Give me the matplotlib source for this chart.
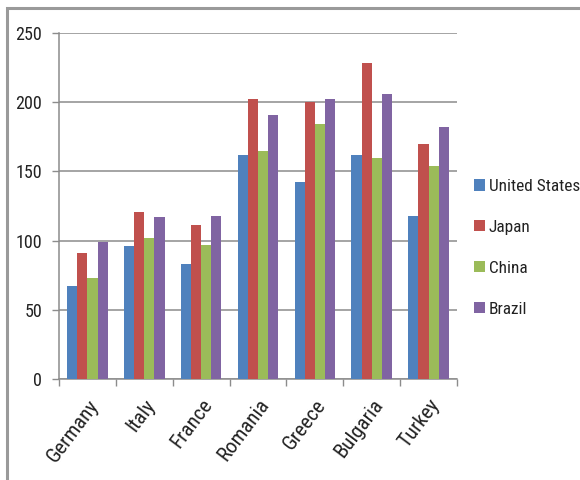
import matplotlib
matplotlib.use("Agg")
import matplotlib.pyplot as plt
import numpy as np
from matplotlib.patches import Rectangle
from matplotlib import font_manager

countries = ["Germany", "Italy", "France", "Romania", "Greece", "Bulgaria", "Turkey"]
series_names = ["United States", "Japan", "China", "Brazil"]
united_states = [67, 96, 83, 162, 142, 162, 118]
japan = [91, 121, 111, 202, 200, 228, 170]
china = [73, 102, 97, 165, 184, 160, 154]
brazil = [99, 117, 118, 191, 202, 206, 182]
y_ticks = [0, 50, 100, 150, 200, 250]

colors = ["#4F81BD", "#C0504D", "#9BBB59", "#8064A2"]
grid_color = "#8C8C8C"

available = {f.name for f in font_manager.fontManager.ttflist}
condensed = [n for n in ["Roboto Condensed", "Liberation Sans Narrow",
                         "Open Sans Condensed", "Noto Sans Condensed",
                         "DejaVu Sans Condensed"] if n in available]
family = condensed[0] if condensed else "Roboto"
plt.rcParams["font.family"] = [family, "DejaVu Sans"]
fs = 13 if condensed else 11.5

W, H = 580, 480
fig = plt.figure(figsize=(W / 100, H / 100), dpi=100)
fig.patch.set_facecolor("white")

# chart frame
fig.add_artist(Rectangle((7 / W, -0.05), 1.2, 1 - 8 / H + 0.05,
                         transform=fig.transFigure, fill=False,
                         edgecolor="#9A9A9A", linewidth=2.2))

ax = fig.add_axes([59 / W, 1 - 379 / H, (457 - 59) / W, (379 - 33) / H])

x = np.arange(len(countries))
bw = 0.178
all_series = [united_states, japan, china, brazil]
for i, (vals, name, c) in enumerate(zip(all_series, series_names, colors)):
    ax.bar(x + (i - 1.5) * bw, vals, width=bw, color=c, label=name,
           edgecolor="none", zorder=3)

ax.set_xlim(-0.5, len(countries) - 0.5)
ax.set_ylim(0, 250)
ax.set_yticks(y_ticks)
ax.set_yticklabels([str(v) for v in y_ticks], fontsize=fs, color="#222222")
ax.yaxis.grid(True, color=grid_color, linewidth=1.1, zorder=0)

ax.set_xticks(x)
ax.set_xticklabels(countries, rotation=53, ha="right", rotation_mode="anchor",
                   fontsize=fs + 2, color="#222222")
ax.tick_params(axis="x", length=0, pad=12)
ax.set_xticks(np.arange(-0.5, len(countries)), minor=True)
ax.tick_params(axis="x", which="minor", length=5, color=grid_color, width=1)
ax.tick_params(axis="y", length=5, color=grid_color, width=1, pad=7)

for side in ["top", "right"]:
    ax.spines[side].set_visible(False)
for side in ["left", "bottom"]:
    ax.spines[side].set_color(grid_color)
    ax.spines[side].set_linewidth(1.1)

leg = fig.legend(loc="upper left", bbox_to_anchor=(474 / W, 1 - 179 / H),
                 frameon=False, fontsize=fs - 0.6, handlelength=0.62,
                 handleheight=0.62, handletextpad=0.25, labelspacing=1.5,
                 borderpad=0, borderaxespad=0)
for t in leg.get_texts():
    t.set_color("#222222")

fig.savefig("out.png", dpi=100, facecolor="white")
